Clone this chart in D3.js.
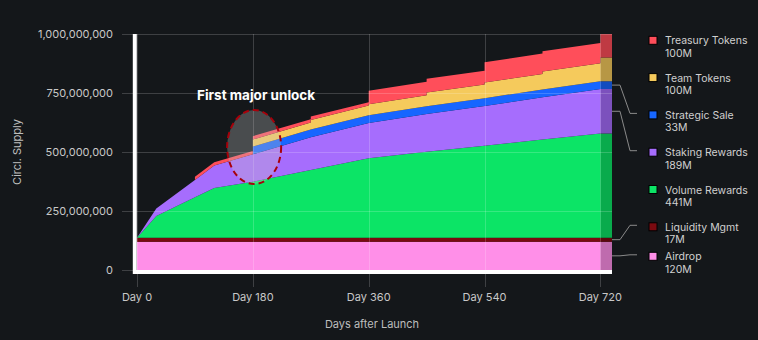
<!DOCTYPE html>
<html>
<head>
<meta charset="utf-8">
<script src="https://cdn.jsdelivr.net/npm/d3@7"></script>
<style>
  html, body { margin: 0; padding: 0; background: #14171a; }
  svg { display: block; font-family: Inter, "Noto Sans", sans-serif; }
</style>
</head>
<body>
<svg id="chart" width="758" height="340"></svg>
<script>
// Circulating supply by allocation (millions of tokens), sampled at unlock days.
// A repeated day marks a step unlock on that day.
const days            = [0, 30, 90, 90, 120, 180, 180, 270, 270, 360, 360, 450, 450, 540, 540, 630, 630, 720, 720, 738];
const airdrop         = [120, 120, 120, 120, 120, 120, 120, 120, 120, 120, 120, 120, 120, 120, 120, 120, 120, 120, 120, 120];
const liquidityMgmt   = [17, 17, 17, 17, 17, 17, 17, 17, 17, 17, 17, 17, 17, 17, 17, 17, 17, 17, 17, 17];
const volumeRewards   = [0, 92, 171, 171, 210, 237, 237, 287, 287, 336, 336, 364, 364, 390, 390, 416, 416, 441, 441, 441];
const stakingRewards  = [0, 32, 73, 73, 96, 116, 116, 138, 138, 150, 150, 160, 160, 168, 168, 179, 179, 189, 189, 189];
const strategicSale   = [0, 0, 0, 0, 0, 0, 33, 33, 33, 33, 33, 33, 33, 33, 33, 33, 33, 33, 33, 33];
const teamTokens      = [0, 0, 0, 0, 0, 0, 30, 30, 41, 41, 46, 46, 58, 58, 66, 66, 76, 76, 100, 100];
const treasuryTokens  = [0, 0, 0, 14, 14, 14, 14, 14, 14, 14, 58, 58, 58, 58, 86, 86, 86, 86, 100, 100];

const seriesNames  = ["Airdrop", "Liquidity Mgmt", "Volume Rewards", "Staking Rewards", "Strategic Sale", "Team Tokens", "Treasury Tokens"];
const seriesValues = [airdrop, liquidityMgmt, volumeRewards, stakingRewards, strategicSale, teamTokens, treasuryTokens];
const allocations  = ["120M", "17M", "441M", "189M", "33M", "100M", "100M"];
const colors       = ["#ff8fe8", "#7a0a10", "#0ce466", "#a66dfd", "#1766ff", "#f5ca5c", "#ff4e5a"];

const xTicks      = [0, 180, 360, 540, 720];
const xTickLabels = ["Day 0", "Day 180", "Day 360", "Day 540", "Day 720"];
const yTicks      = [0, 250e6, 500e6, 750e6, 1000e6];

const leaderSeries = ["Strategic Sale", "Staking Rewards", "Liquidity Mgmt", "Airdrop"];

// Table for the stack layout
const rows = days.map((d, i) => {
  const r = { day: d };
  seriesNames.forEach((n, k) => { r[n] = seriesValues[k][i] * 1e6; });
  return r;
});

const svg = d3.select("#chart");
const x = d3.scaleLinear().domain([0, 738]).range([137, 612]);
const y = d3.scaleLinear().domain([0, 1e9]).range([270, 34]);

const stacked = d3.stack().keys(seriesNames)(rows);

const area = d3.area()
  .x(d => x(d.data.day))
  .y0(d => y(d[0]))
  .y1(d => y(d[1]))
  .curve(d3.curveLinear);

svg.append("g").selectAll("path")
  .data(stacked)
  .join("path")
  .attr("d", area)
  .attr("fill", (d, i) => colors[i]);

// Fully-unlocked tail after day 720
svg.append("rect")
  .attr("x", x(720)).attr("y", y(1e9))
  .attr("width", x(738) - x(720)).attr("height", y(0) - y(1e9))
  .attr("fill", "#000").attr("opacity", 0.25);

// Grid
const grid = svg.append("g").attr("stroke", "rgba(255,255,255,0.18)").attr("stroke-width", 1);
grid.selectAll("line.h").data(yTicks).join("line")
  .attr("class", "h")
  .attr("x1", 122).attr("x2", x(738))
  .attr("y1", d => Math.round(y(d)) + 0.5).attr("y2", d => Math.round(y(d)) + 0.5);
grid.selectAll("line.v").data(xTicks).join("line")
  .attr("class", "v")
  .attr("x1", d => Math.round(x(d)) + 0.5).attr("x2", d => Math.round(x(d)) + 0.5)
  .attr("y1", y(1e9)).attr("y2", 287);

// Axis lines
svg.append("line")
  .attr("x1", 134.8).attr("x2", 134.8).attr("y1", y(1e9)).attr("y2", 274)
  .attr("stroke", "#fff").attr("stroke-width", 4);
svg.append("line")
  .attr("x1", 133).attr("x2", x(738)).attr("y1", 272).attr("y2", 272)
  .attr("stroke", "#fff").attr("stroke-width", 4);

// Tick labels
const fmt = d3.format(",");
svg.append("g").selectAll("text").data(yTicks).join("text")
  .attr("x", 113).attr("y", d => y(d)).attr("dy", "0.35em")
  .attr("text-anchor", "end").attr("font-size", 11).attr("fill", "#c8c8c8")
  .text(d => fmt(d));
svg.append("g").selectAll("text").data(xTicks).join("text")
  .attr("x", d => x(d)).attr("y", 301)
  .attr("text-anchor", "middle").attr("font-size", 11).attr("fill", "#c8c8c8")
  .text((d, i) => xTickLabels[i]);

// Axis titles
svg.append("text")
  .attr("transform", "translate(21,152) rotate(-90)")
  .attr("text-anchor", "middle").attr("font-size", 11).attr("fill", "#bdbdbd")
  .text("Circl. Supply");
svg.append("text")
  .attr("x", 372).attr("y", 328)
  .attr("text-anchor", "middle").attr("font-size", 11).attr("fill", "#bdbdbd")
  .text("Days after Launch");

// Annotation
svg.append("ellipse")
  .attr("cx", x(182)).attr("cy", y(521e6)).attr("rx", 27).attr("ry", 37)
  .attr("fill", "rgba(200,200,200,0.3)")
  .attr("stroke", "#a8000a").attr("stroke-width", 2).attr("stroke-dasharray", "6,4");
svg.append("text")
  .attr("x", x(185)).attr("y", y(722e6))
  .attr("text-anchor", "middle").attr("font-size", 13.5).attr("font-weight", 700).attr("fill", "#ffffff")
  .text("First major unlock");

// Legend (top entry first)
const order = seriesNames.map((n, i) => i).reverse();
const legendY = j => (j < 6 ? 40.3 + j * 37.3 : 256.3);
const last = stacked.map(s => s[s.length - 1]);

const legend = svg.append("g");
order.forEach((k, j) => {
  const ly = legendY(j);
  legend.append("rect")
    .attr("x", 649).attr("y", ly - 4).attr("width", 8).attr("height", 8)
    .attr("fill", colors[k]).attr("stroke", "#000").attr("stroke-width", 1);
  legend.append("text")
    .attr("x", 665).attr("y", ly + 4).attr("font-size", 10.5).attr("fill", "#d0d0d0")
    .text(seriesNames[k]);
  legend.append("text")
    .attr("x", 665).attr("y", ly + 16.5).attr("font-size", 10.5).attr("fill", "#d0d0d0")
    .text(allocations[k]);

  if (leaderSeries.includes(seriesNames[k])) {
    const mid = y((last[k][0] + last[k][1]) / 2);
    const pts = [[x(738), mid], [620, mid], [630, ly - 1.5], [637, ly - 1.5]];
    legend.append("path")
      .attr("d", d3.line()(pts))
      .attr("fill", "none").attr("stroke", "#8a8a8a").attr("stroke-width", 1);
  }
});
</script>
</body>
</html>
